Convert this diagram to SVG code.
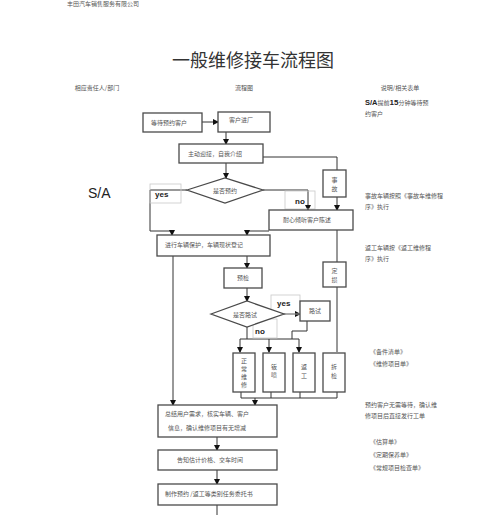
<svg xmlns="http://www.w3.org/2000/svg" width="500" height="515" viewBox="0 0 500 515">
<defs>
<marker id="ah" markerWidth="6" markerHeight="6" refX="5" refY="3" orient="auto" markerUnits="userSpaceOnUse">
<path d="M0,0 L6,3 L0,6 Z" fill="#111"/>
</marker>
<style>
.box{fill:#fff;stroke:#4a4a4a;stroke-width:1.3}
.lt{fill:none;stroke:#c8c8c8;stroke-width:0.8}
.c{fill:none;stroke:#333;stroke-width:1}
.a{fill:none;stroke:#333;stroke-width:1;marker-end:url(#ah)}
.t{font-family:"Noto Sans CJK SC","Noto Sans",sans-serif;font-size:6px;fill:#555}
.m{text-anchor:middle}
.e{font-family:"Liberation Sans",Arial,sans-serif;font-weight:bold;fill:#222}
</style>
</defs>
<rect width="500" height="515" fill="#fff"/>
<text class="t" x="67" y="6" font-size="5.5">丰田汽车销售服务有限公司</text>
<text x="253" y="67" text-anchor="middle" font-family="'Noto Sans CJK SC',sans-serif" font-size="18" fill="#333">一般维修接车流程图</text>
<text class="t m" x="97" y="90">相应责任人/部门</text>
<text class="t m" x="244" y="90">流程图</text>
<text class="t m" x="400" y="90">说明/相关表单</text>
<text x="88" y="198" font-family="'Liberation Sans',Arial,sans-serif" font-size="14" fill="#222">S/A</text>

<g id="connectors">
<line class="a" x1="202" y1="122" x2="218" y2="122"/>
<line class="a" x1="226" y1="132" x2="226" y2="144"/>
<polyline class="c" points="263,157 337,157 337,170"/>
<line class="a" x1="226" y1="163" x2="226" y2="178"/>
<polyline class="a" points="187,190 150,190 150,231 172,231 172,235"/>
<polyline class="a" points="263,190 308,190 308,210"/>
<line class="a" x1="337" y1="197" x2="337" y2="210"/>
<polyline class="a" points="269,231 247,231 247,235"/>
<line class="c" x1="337" y1="230" x2="337" y2="262"/>
<line class="a" x1="247" y1="256" x2="247" y2="268"/>
<line class="a" x1="173" y1="256" x2="173" y2="405"/>
<line class="a" x1="247" y1="288" x2="247" y2="301"/>
<line class="a" x1="284" y1="314" x2="300" y2="314"/>
<polyline class="c" points="307,321 307,331 292,331 292,339"/>
<line class="c" x1="247" y1="327" x2="247" y2="339"/>
<line class="c" x1="240" y1="339" x2="299" y2="339"/>
<line class="a" x1="240" y1="339" x2="240" y2="352"/>
<line class="a" x1="269" y1="339" x2="269" y2="352"/>
<line class="a" x1="299" y1="339" x2="299" y2="352"/>
<line class="c" x1="337" y1="287" x2="337" y2="352"/>
<line class="c" x1="241" y1="392" x2="241" y2="398"/>
<line class="c" x1="271" y1="392" x2="271" y2="398"/>
<line class="c" x1="300" y1="392" x2="300" y2="398"/>
<line class="c" x1="337" y1="392" x2="337" y2="398"/>
<line class="c" x1="241" y1="398" x2="337" y2="398"/>
<line class="a" x1="255" y1="398" x2="255" y2="405"/>
<line class="a" x1="217" y1="437" x2="217" y2="450"/>
<line class="a" x1="217" y1="470" x2="217" y2="484"/>
<line class="c" x1="217" y1="505" x2="217" y2="515"/>
</g>

<g id="n-wait"><rect class="box" x="143" y="113" width="59" height="19"/><text class="t" x="151" y="125">等待预约客户</text></g>
<g id="n-arrive"><rect class="box" x="218" y="112" width="52" height="20"/><text class="t" x="229" y="122">客户进厂</text></g>
<g id="n-greet"><rect class="box" x="179" y="144" width="84" height="19"/><text class="t" x="188" y="156">主动迎接，自我介绍</text></g>
<g id="n-accident"><rect class="box" x="323" y="170" width="23" height="27"/><text class="t m" x="334.5" y="182">事</text><text class="t m" x="334.5" y="191">故</text></g>
<g id="n-appt">
<rect class="lt" x="150" y="184" width="31" height="19"/>
<polygon class="box" points="187,190 225,178 263,190 225,203"/>
<text class="t m" x="225" y="193">是否预约</text>
<text class="e" x="155" y="197" font-size="8">yes</text>
</g>
<g id="n-no1"><rect class="lt" x="285" y="191" width="30" height="18"/><text class="e" x="295" y="204" font-size="8">no</text></g>
<g id="n-listen"><rect class="box" x="269" y="210" width="84" height="20"/><text class="t" x="283" y="222">耐心倾听客户陈述</text></g>
<g id="n-protect"><rect class="box" x="157" y="235" width="113" height="21"/><text class="t" x="165" y="247">进行车辆保护，车辆现状登记</text></g>
<g id="n-damage"><rect class="box" x="323" y="262" width="23" height="25"/><text class="t m" x="334.5" y="273">定</text><text class="t m" x="334.5" y="282">损</text></g>
<g id="n-precheck"><rect class="box" x="224" y="268" width="38" height="20"/><text class="t m" x="243" y="280">预检</text></g>
<g id="n-roadtest-q">
<rect class="lt" x="271" y="295" width="29" height="19"/>
<rect class="lt" x="253" y="319" width="24" height="19"/>
<polygon class="box" points="211,314 247,301 284,314 247,327"/>
<text class="t m" x="245" y="317">是否路试</text>
<text class="e" x="277" y="306" font-size="8">yes</text>
<text class="e" x="255" y="334" font-size="8">no</text>
</g>
<g id="n-roadtest"><rect class="box" x="300" y="301" width="30" height="20"/><text class="t m" x="315" y="313">路试</text></g>
<g id="n-normal"><rect class="box" x="233" y="353" width="22" height="39"/><text class="t m" x="244" y="363">正</text><text class="t m" x="244" y="371">常</text><text class="t m" x="244" y="379" font-size="4">维</text><text class="t m" x="244" y="387">修</text></g>
<g id="n-sheet"><rect class="box" x="263" y="353" width="22" height="39"/><text class="t m" x="274" y="369" font-size="5">钣</text><text class="t m" x="274" y="377" font-size="4">喷</text></g>
<g id="n-rework"><rect class="box" x="293" y="353" width="22" height="39"/><text class="t m" x="304" y="369">返</text><text class="t m" x="304" y="378">工</text></g>
<g id="n-disassemble"><rect class="box" x="323" y="353" width="22" height="39"/><text class="t m" x="334" y="369">拆</text><text class="t m" x="334" y="378">检</text></g>
<g id="n-summary"><rect class="box" x="158" y="405" width="119" height="32"/><text class="t" x="165" y="416">总结用户需求，核实车辆、客户</text><text class="t" x="168" y="430">信息，确认维修项目有无增减</text></g>
<g id="n-price"><rect class="box" x="158" y="450" width="119" height="20"/><text class="t" x="177" y="462">告知估计价格、交车时间</text></g>
<g id="n-order"><rect class="box" x="158" y="484" width="119" height="21"/><text class="t" x="165" y="496">制作预约 /返工等类别任务委托书</text></g>

<g id="notes">
<text class="t" x="365" y="105"><tspan class="e" font-size="7.5">S/A</tspan>提前<tspan class="e" font-size="8">15</tspan>分钟等待预</text>
<text class="t" x="365" y="116">约客户</text>
<text class="t" x="365" y="198">事故车辆按照《事故车维修程</text>
<text class="t" x="365" y="209">序》执行</text>
<text class="t" x="365" y="250">返工车辆按《返工维修程</text>
<text class="t" x="365" y="261">序》执行</text>
<text class="t" x="370" y="354">《备件清单》</text>
<text class="t" x="370" y="366">《维修项目单》</text>
<text class="t" x="365" y="407">预约客户无需等待，确认维</text>
<text class="t" x="365" y="418">修项目后直接发行工单</text>
<text class="t" x="370" y="444">《估算单》</text>
<text class="t" x="370" y="457">《定期保养单》</text>
<text class="t" x="370" y="470">《常规项目检查单》</text>
</g>
</svg>
